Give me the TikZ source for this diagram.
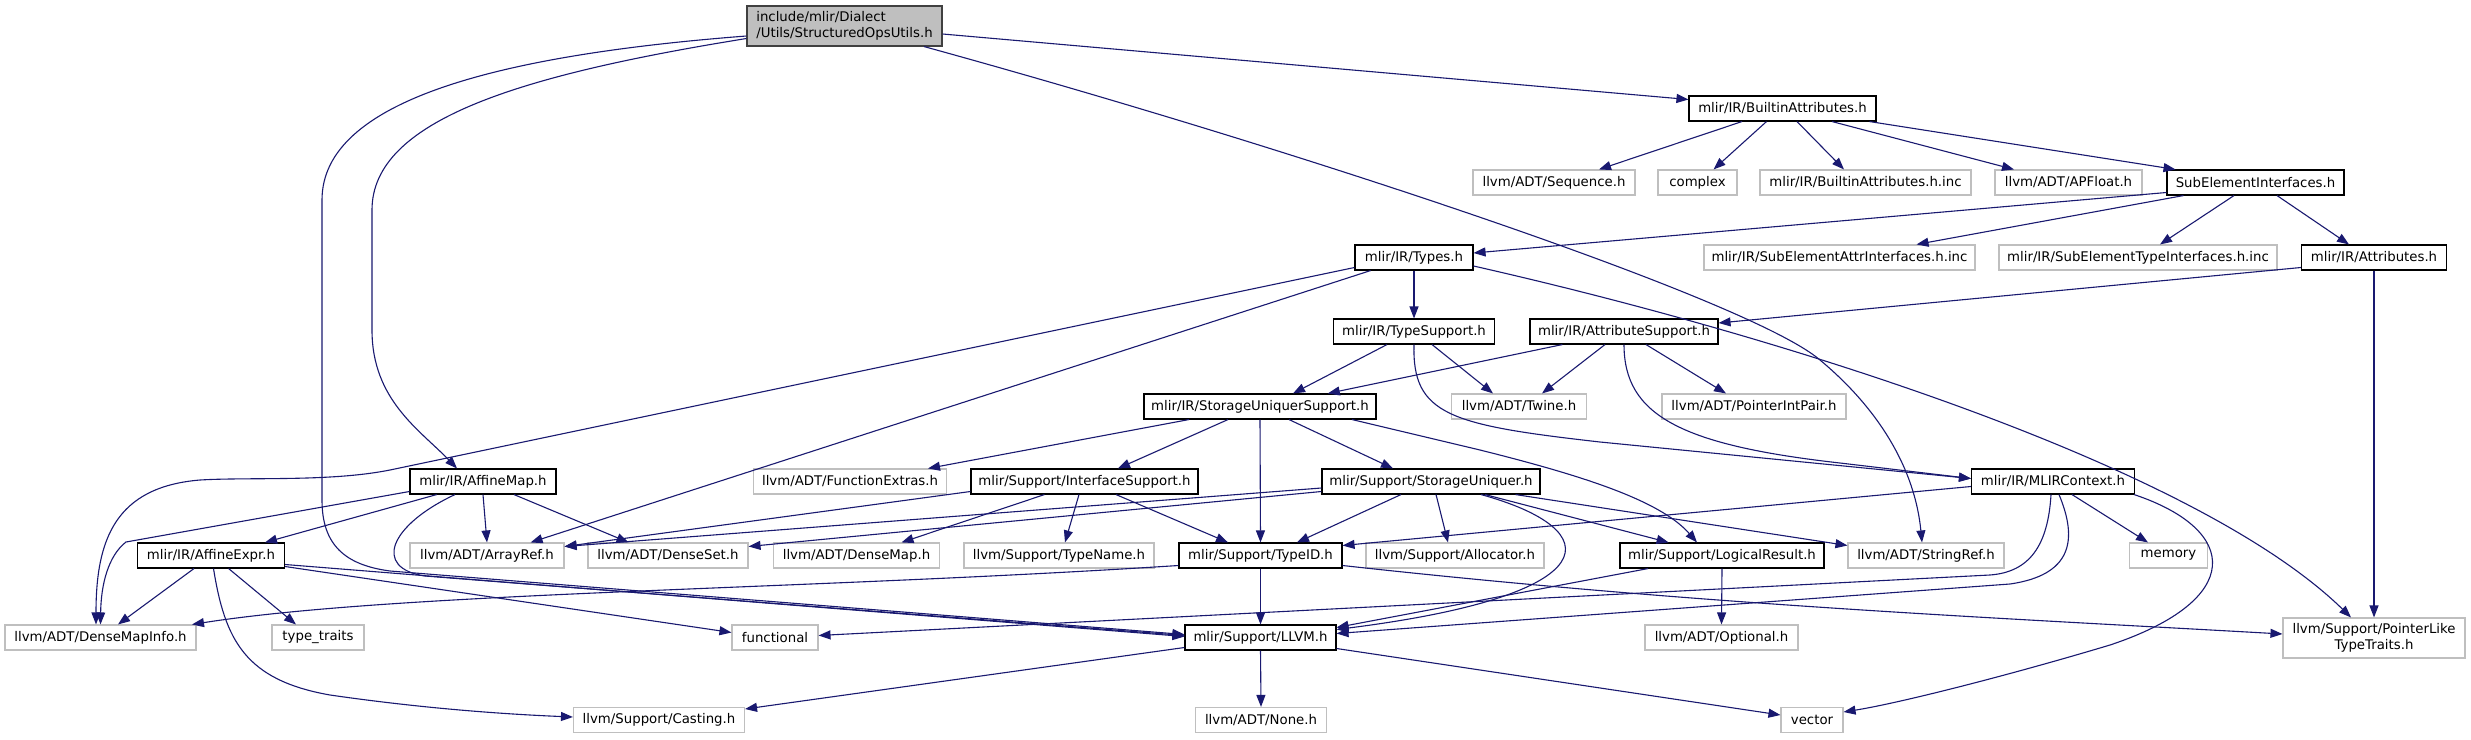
\documentclass[tikz,border=0pt]{standalone}
\usepackage{fontspec}
\setmainfont{DejaVu Sans}
\usetikzlibrary{arrows.meta}
\definecolor{edgecol}{HTML}{191970}
\definecolor{extgray}{HTML}{BFBFBF}
\definecolor{rootborder}{HTML}{404040}
\tikzset{
  nbox/.style={draw=black, fill=white, line width=1.1pt, minimum height=25pt, inner sep=0pt, font=\fontsize{13.3}{15.5}\selectfont},
  xbox/.style={nbox, draw=extgray},
  rbox/.style={nbox, draw=rootborder, fill=extgray, minimum height=40pt, align=left},
  dep/.style={draw=edgecol, line width=1.1pt, -{Triangle[length=12pt,width=9pt]}},
}
\begin{document}
\begin{tikzpicture}[x=1pt,y=-1pt]
\fill[white] (0,0) rectangle (2471,739);
\useasboundingbox (0,0) rectangle (2471,739);
% nodes
\node[rbox, minimum width=195pt] (root) at (844.5,26) {include/mlir/Dialect\\/Utils/StructuredOpsUtils.h};
\node[nbox, minimum width=187pt] (ba) at (1782.5,108.5) {mlir/IR/BuiltinAttributes.h};
\node[xbox, minimum width=162pt] (seq) at (1554,182.5) {llvm/ADT/Sequence.h};
\node[xbox, minimum width=79pt] (cplx) at (1697.5,182.5) {complex};
\node[xbox, minimum width=211pt] (bainc) at (1865.5,182.5) {mlir/IR/BuiltinAttributes.h.inc};
\node[xbox, minimum width=147pt] (apf) at (2068.5,182.5) {llvm/ADT/APFloat.h};
\node[nbox, minimum width=177pt] (sei) at (2255.5,182.5) {SubElementInterfaces.h};
\node[nbox, minimum width=118pt] (types) at (1414,257.5) {mlir/IR/Types.h};
\node[xbox, minimum width=271pt] (seattr) at (1839.5,257.5) {mlir/IR/SubElementAttrInterfaces.h.inc};
\node[xbox, minimum width=278pt] (setype) at (2138,257.5) {mlir/IR/SubElementTypeInterfaces.h.inc};
\node[nbox, minimum width=145pt] (attrs) at (2374,257.5) {mlir/IR/Attributes.h};
\node[nbox, minimum width=161pt] (tsup) at (1414,331.5) {mlir/IR/TypeSupport.h};
\node[nbox, minimum width=188pt] (asup) at (1624,331.5) {mlir/IR/AttributeSupport.h};
\node[nbox, minimum width=232pt] (sus) at (1260,406.5) {mlir/IR/StorageUniquerSupport.h};
\node[xbox, minimum width=135pt] (twine) at (1519,406.5) {llvm/ADT/Twine.h};
\node[xbox, minimum width=184pt] (pip) at (1754,406.5) {llvm/ADT/PointerIntPair.h};
\node[nbox, minimum width=146pt] (amap) at (483,481.5) {mlir/IR/AffineMap.h};
\node[xbox, minimum width=193pt] (fext) at (850,481.5) {llvm/ADT/FunctionExtras.h};
\node[nbox, minimum width=227pt] (isup) at (1084.5,481.5) {mlir/Support/InterfaceSupport.h};
\node[nbox, minimum width=218pt] (suq) at (1431,481.5) {mlir/Support/StorageUniquer.h};
\node[nbox, minimum width=163pt] (mctx) at (2053,481.5) {mlir/IR/MLIRContext.h};
\node[nbox, minimum width=147pt] (aexpr) at (211,555.5) {mlir/IR/AffineExpr.h};
\node[xbox, minimum width=154pt] (aref) at (487,555.5) {llvm/ADT/ArrayRef.h};
\node[xbox, minimum width=160pt] (dset) at (668,555.5) {llvm/ADT/DenseSet.h};
\node[xbox, minimum width=166pt] (dmap) at (856.5,555.5) {llvm/ADT/DenseMap.h};
\node[xbox, minimum width=190pt] (tname) at (1059,555.5) {llvm/Support/TypeName.h};
\node[nbox, minimum width=163pt] (tid) at (1260.5,555.5) {mlir/Support/TypeID.h};
\node[xbox, minimum width=178pt] (alloc) at (1455,555.5) {llvm/Support/Allocator.h};
\node[nbox, minimum width=204pt] (lres) at (1722,555.5) {mlir/Support/LogicalResult.h};
\node[xbox, minimum width=156pt] (sref) at (1926,555.5) {llvm/ADT/StringRef.h};
\node[xbox, minimum width=78pt] (mem) at (2168.5,555.5) {memory};
\node[xbox, minimum width=191pt] (dmi) at (100.5,637.5) {llvm/ADT/DenseMapInfo.h};
\node[xbox, minimum width=92pt] (ttr) at (318,637.5) {type\_traits};
\node[xbox, minimum width=86pt] (func) at (775,637.5) {functional};
\node[nbox, minimum width=151pt] (llvm) at (1260.5,637.5) {mlir/Support/LLVM.h};
\node[xbox, minimum width=153pt] (opt) at (1721.5,637.5) {llvm/ADT/Optional.h};
\node[xbox, minimum width=182pt, minimum height=40pt, align=center] (plt) at (2374,638) {llvm/Support/PointerLike\\TypeTraits.h};
\node[xbox, minimum width=171pt] (cast) at (659,720) {llvm/Support/Casting.h};
\node[xbox, minimum width=131pt] (none) at (1261,720) {llvm/ADT/None.h};
\node[xbox, minimum width=62pt] (vec) at (1812,720) {vector};
% edges from root
\draw[dep] ([yshift=-8pt]root.east) -- ([yshift=9pt]ba.west);
\draw[dep] ([yshift=-12.5pt]root.west) .. controls (520,75) and (372,120) .. (372,210) -- (372,330) .. controls (372,400) and (420,430) .. ([xshift=-26pt]amap.north);
\draw[dep] ([yshift=-10pt]root.west) .. controls (500,55) and (322,100) .. (322,200) -- (322,500) .. controls (322,545) and (345,565) .. (390,571) -- ([yshift=3pt]llvm.west);
\draw[dep] ([xshift=79.5pt]root.south) .. controls (1300,150) and (1750,300) .. (1820,360) .. controls (1880,410) and (1915,470) .. ([xshift=-4pt]sref.north);
% BuiltinAttributes
\draw[dep] ([xshift=-40.5pt]ba.south) -- ([xshift=45pt]seq.north);
\draw[dep] ([xshift=-16pt]ba.south) -- ([xshift=16pt]cplx.north);
\draw[dep] ([xshift=14.5pt]ba.south) -- ([xshift=-21.5pt]bainc.north);
\draw[dep] ([xshift=49.5pt]ba.south) -- ([xshift=-54.5pt]apf.north);
\draw[dep] ([xshift=87pt]ba.south) -- ([xshift=-80pt]sei.north);
% SubElementInterfaces
\draw[dep] ([yshift=-10pt]sei.west) -- ([yshift=4.5pt]types.east);
\draw[dep] ([xshift=-72pt]sei.south) -- ([xshift=77pt]seattr.north);
\draw[dep] ([xshift=-21.5pt]sei.south) -- ([xshift=22pt]setype.north);
\draw[dep] ([xshift=21.5pt]sei.south) -- ([xshift=-25pt]attrs.north);
% Attributes
\draw[dep] ([yshift=-10pt]attrs.west) -- ([yshift=8.5pt]asup.east);
\draw[dep] (attrs.south) -- (plt.north);
% Types
\draw[dep] (types.south) -- (tsup.north);
\draw[dep] ([yshift=-10pt]types.west) -- (390,470) .. controls (330,482) and (250,477) .. (200,480) .. controls (115,487) and (96,540) .. ([xshift=-4.5pt]dmi.north);
\draw[dep] ([xshift=-43.4pt]types.south) -- ([xshift=43.6pt]aref.north);
\draw[dep] ([yshift=-8.5pt]types.east) .. controls (1800,340) and (2200,470) .. ([xshift=-23pt]plt.north);
% TypeSupport
\draw[dep] ([xshift=-27pt]tsup.south) -- ([xshift=33pt]sus.north);
\draw[dep] ([xshift=18pt]tsup.south) -- ([xshift=-26pt]twine.north);
\draw[dep] (tsup.south) .. controls (1412,415) and (1450,425) .. (1600,442) -- ([yshift=3pt]mctx.west);
% AttributeSupport
\draw[dep] ([xshift=-61.6pt]asup.south) -- ([xshift=67.8pt]sus.north);
\draw[dep] ([xshift=-19pt]asup.south) -- ([xshift=23pt]twine.north);
\draw[dep] ([xshift=22pt]asup.south) -- ([xshift=-28pt]pip.north);
\draw[dep] (asup.south) .. controls (1624,415) and (1680,445) .. (1840,463) -- ([yshift=3pt]mctx.west);
% StorageUniquerSupport
\draw[dep] ([xshift=-71pt]sus.south) -- ([xshift=78pt]fext.north);
\draw[dep] ([xshift=-32pt]sus.south) -- ([xshift=33.5pt]isup.north);
\draw[dep] (sus.south) -- (tid.north);
\draw[dep] ([xshift=29pt]sus.south) -- ([xshift=-38pt]suq.north);
\draw[dep] ([xshift=92pt]sus.south) -- (1480,450) .. controls (1580,475) and (1660,500) .. ([xshift=-25pt]lres.north);
% InterfaceSupport
\draw[dep] ([xshift=-40pt]isup.south) -- ([xshift=45pt]dmap.north);
\draw[dep] ([xshift=-5.5pt]isup.south) -- ([xshift=6pt]tname.north);
\draw[dep] ([xshift=31.5pt]isup.south) -- ([xshift=-32.5pt]tid.north);
\draw[dep] ([yshift=-10pt]isup.west) -- ([yshift=9pt]aref.east);
% StorageUniquer
\draw[dep] ([yshift=-6.5pt]suq.west) -- ([yshift=9pt]aref.east);
\draw[dep] ([yshift=-10pt]suq.west) -- ([yshift=9pt]dset.east);
\draw[dep] ([xshift=-30pt]suq.south) -- ([xshift=36.5pt]tid.north);
\draw[dep] ([xshift=5pt]suq.south) -- ([xshift=-7pt]alloc.north);
\draw[dep] ([xshift=50pt]suq.south) .. controls (1610,530) and (1610,595) .. ([yshift=8pt]llvm.east);
\draw[dep] ([xshift=54pt]suq.south) -- ([xshift=-53.4pt]lres.north);
\draw[dep] ([xshift=84.5pt]suq.south) -- ([yshift=10pt]sref.west);
% MLIRContext
\draw[dep] ([yshift=-5pt]mctx.west) -- ([yshift=10pt]tid.east);
\draw[dep] ([xshift=-2pt]mctx.south) .. controls (2048,545) and (2030,572) .. (1990,575) -- ([yshift=2pt]func.east);
\draw[dep] ([xshift=6pt]mctx.south) .. controls (2078,540) and (2072,575) .. (2010,584) -- ([yshift=4pt]llvm.east);
\draw[dep] ([xshift=19pt]mctx.south) -- ([xshift=-20.5pt]mem.north);
\draw[dep] ([xshift=-1pt]mctx.south east) .. controls (2240,530) and (2245,600) .. (2110,645) .. controls (2010,675) and (1900,703) .. ([yshift=8pt]vec.east);
% TypeID
\draw[dep] (tid.south) -- (llvm.north);
\draw[dep] ([yshift=-10pt]tid.west) .. controls (800,590) and (400,592) .. ([xshift=91.5pt]dmi.north);
\draw[dep] ([yshift=-10pt]tid.east) .. controls (1700,605) and (2000,618) .. ([yshift=4pt]plt.west);
% LogicalResult
\draw[dep] ([xshift=-74pt]lres.south) -- ([yshift=10pt]llvm.east);
\draw[dep] (lres.south) -- (opt.north);
% LLVM
\draw[dep] (llvm.south) -- (none.north);
\draw[dep] ([yshift=-11pt]llvm.east) -- ([yshift=5pt]vec.west);
\draw[dep] ([yshift=-10pt]llvm.west) -- ([yshift=11pt]cast.east);
% AffineMap
\draw[dep] ([yshift=-10pt]amap.west) -- (126,542) .. controls (108,556) and (101,585) .. (dmi.north);
\draw[dep] ([xshift=-46.3pt]amap.south) -- ([xshift=54pt]aexpr.north);
\draw[dep] (amap.south) -- (aref.north);
\draw[dep] ([xshift=31pt]amap.south) -- ([xshift=-39.4pt]dset.north);
\draw[dep] ([xshift=-28pt]amap.south) .. controls (390,525) and (372,568) .. (425,576) -- ([yshift=2pt]llvm.west);
% AffineExpr
\draw[dep] ([xshift=-17pt]aexpr.south) -- ([xshift=17.5pt]dmi.north);
\draw[dep] ([xshift=17.6pt]aexpr.south) -- ([xshift=-22pt]ttr.north);
\draw[dep] ([xshift=2.5pt]aexpr.south) .. controls (225,640) and (245,680) .. (330,695) .. controls (420,708) and (500,714) .. ([yshift=3pt]cast.west);
\draw[dep] ([yshift=-11pt]aexpr.east) -- ([yshift=5pt]func.west);
\draw[dep] ([yshift=-9pt]aexpr.east) -- ([yshift=1pt]llvm.west);
\end{tikzpicture}
\end{document}
